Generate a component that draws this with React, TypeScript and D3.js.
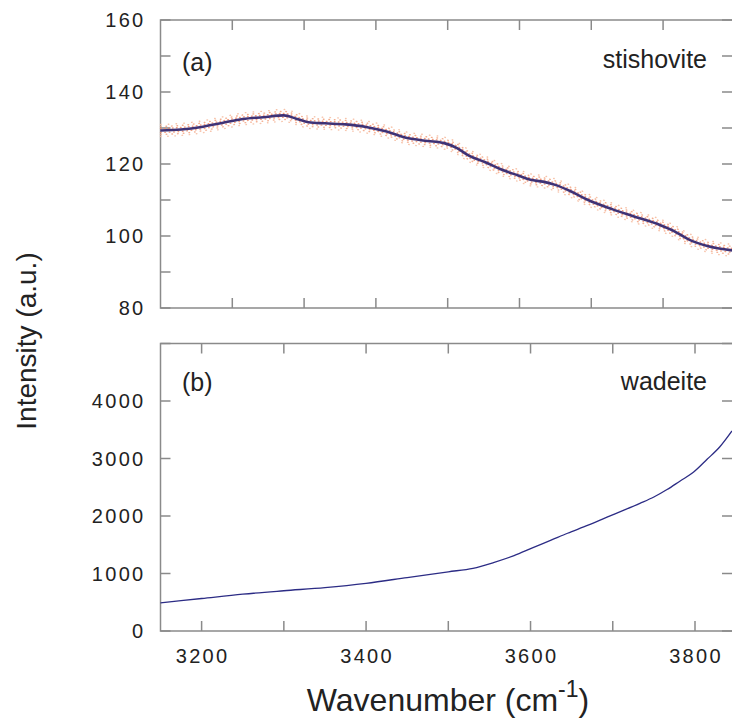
import React, { useEffect, useRef } from 'react'
import * as d3 from 'd3'

// (a) stishovite, smoothed spectrum
const stishWn = [3150, 3175, 3200, 3225, 3250, 3275, 3300, 3315, 3330, 3350, 3375, 3400, 3425, 3450, 3475, 3495, 3510, 3525, 3545, 3563, 3585, 3600, 3615, 3630, 3650, 3670, 3700, 3725, 3758, 3775, 3791, 3815, 3845]
const stishI = [129.3, 129.6, 130.3, 131.4, 132.5, 133.0, 133.5, 132.6, 131.6, 131.3, 131.0, 130.3, 129.0, 127.2, 126.4, 125.8, 124.5, 122.3, 120.5, 118.6, 116.8, 115.6, 115.1, 114.2, 112.3, 110.0, 107.4, 105.5, 103.0, 101.3, 99.2, 97.2, 96.0]

// (b) wadeite
const wadWn = [3150, 3200, 3250, 3300, 3350, 3400, 3450, 3500, 3530, 3555, 3580, 3603, 3625, 3645, 3670, 3693, 3715, 3733, 3750, 3766, 3782, 3798, 3815, 3830, 3845]
const wadI = [490, 565, 640, 700, 755, 830, 930, 1030, 1090, 1190, 1310, 1450, 1580, 1700, 1840, 1980, 2110, 2220, 2330, 2460, 2610, 2760, 2990, 3200, 3480]

const xTickLabels = [3200, 3400, 3600, 3800]
const xTicksB = [3200, 3300, 3400, 3500, 3600, 3700, 3800]
const xTicksA = [3200, 3300, 3400, 3500, 3600, 3700, 3800]
const yTicksA = [80, 90, 100, 110, 120, 130, 140, 150, 160]
const yLabelsA = [80, 100, 120, 140, 160]
const yTicksB = [0, 1000, 2000, 3000, 4000, 5000]
const yLabelsB = [0, 1000, 2000, 3000, 4000]

const font = "'Liberation Sans', Arial, sans-serif"

export default function App() {
  const ref = useRef<SVGSVGElement>(null)

  useEffect(() => {
    const svg = d3.select(ref.current)
    svg.selectAll('*').remove()

    const left = 160.5
    const right = 732
    const x = d3.scaleLinear().domain([3150, 3845]).range([left, right])
    // panel (a) had its own tick spacing
    const xA = d3.scaleLinear().domain([3100, 3896]).range([left, right])
    const yA = d3.scaleLinear().domain([80, 160]).range([308, 20])
    const yB = d3.scaleLinear().domain([0, 5000]).range([631, 343.5])
    const frame = '#8a8a8a'
    const tick = 10

    const drawFrame = (y: d3.ScaleLinear<number, number>, xs: d3.ScaleLinear<number, number>, xt: number[], yt: number[]) => {
      const g = svg.append('g').attr('stroke', frame).attr('stroke-width', 1.5).attr('fill', 'none')
      const [y0, y1] = y.range()
      g.append('path').attr('d', `M${right},${y1}H${left}V${y0}H${right}`)
      xt.forEach((t) => {
        g.append('line').attr('x1', xs(t)).attr('x2', xs(t)).attr('y1', y0).attr('y2', y0 - tick)
        g.append('line').attr('x1', xs(t)).attr('x2', xs(t)).attr('y1', y1).attr('y2', y1 + tick)
      })
      yt.forEach((t) => {
        g.append('line').attr('x1', left).attr('x2', left + tick).attr('y1', y(t)).attr('y2', y(t))
        g.append('line').attr('x1', right).attr('x2', right - tick).attr('y1', y(t)).attr('y2', y(t))
      })
    }
    drawFrame(yA, xA, xTicksA, yTicksA)
    drawFrame(yB, x, xTicksB, yTicksB)

    const labels = svg.append('g').attr('font-family', font).attr('fill', '#222')
    const yLab = (y: d3.ScaleLinear<number, number>, vals: number[]) =>
      vals.forEach((v) => {
        labels.append('text').attr('x', 145.5).attr('y', y(v)).attr('dy', '0.36em')
          .attr('text-anchor', 'end').attr('font-size', 20).attr('letter-spacing', 2.3).text(v)
      })
    yLab(yA, yLabelsA)
    yLab(yB, yLabelsB)
    xTickLabels.forEach((v) => {
      labels.append('text').attr('x', x(v) + 1).attr('y', 663).attr('text-anchor', 'middle')
        .attr('font-size', 20).attr('letter-spacing', 2.3).text(v)
    })

    const t = labels.append('text').attr('x', 448).attr('y', 711).attr('text-anchor', 'middle').attr('font-size', 32)
    t.append('tspan').text('Wavenumber (cm')
    t.append('tspan').attr('dy', -14).attr('font-size', 23).text('-1')
    t.append('tspan').attr('dy', 14).text(')')
    labels.append('text').attr('transform', 'translate(36,341) rotate(-90)').attr('text-anchor', 'middle')
      .attr('font-size', 28).text('Intensity (a.u.)')

    labels.append('text').attr('x', 182).attr('y', 71).attr('font-size', 25).text('(a)')
    labels.append('text').attr('x', 707).attr('y', 68).attr('text-anchor', 'end').attr('font-size', 25).text('stishovite')
    labels.append('text').attr('x', 182).attr('y', 391).attr('font-size', 25).text('(b)')
    labels.append('text').attr('x', 707).attr('y', 390).attr('text-anchor', 'end').attr('font-size', 25).text('wadeite')

    // raw points of (a) shown as a dotted band round the smoothed curve
    const lineA = (off: number) => d3.line<number>()
      .x((d, i) => x(stishWn[i]))
      .y((d) => yA(d) + off)
      .curve(d3.curveMonotoneX)
    const scatter = svg.append('g').attr('fill', 'none').attr('stroke-linecap', 'round')
    const bands: [number, string, string][] = [
      [-6, '0.5 7.3', '#f6b89a'],
      [-4, '0.6 4.9', '#f2a07a'],
      [-2, '0.6 3.4', '#ee8a6a'],
      [2, '0.6 3.8', '#f09070'],
      [4, '0.6 5.1', '#f3a484'],
      [6, '0.5 6.7', '#f6bca0'],
    ]
    bands.forEach(([o, dash, c]) => {
      scatter.append('path').datum(stishI).attr('d', lineA(o)).attr('stroke', c)
        .attr('stroke-width', 1.4).attr('stroke-dasharray', dash).attr('opacity', 0.85)
    })
    svg.append('path').datum(stishI).attr('d', lineA(0)).attr('fill', 'none')
      .attr('stroke', '#3f3275').attr('stroke-width', 2.6)

    const lineB = d3.line<number>()
      .x((d, i) => x(wadWn[i]))
      .y((d) => yB(d))
      .curve(d3.curveMonotoneX)
    svg.append('path').datum(wadI).attr('d', lineB).attr('fill', 'none')
      .attr('stroke', '#2c2c85').attr('stroke-width', 1.3)
  }, [])

  return (
    <svg ref={ref} width={732} height={728} style={{ position: 'absolute', left: 0, top: 0, background: '#fff' }} />
  )
}
